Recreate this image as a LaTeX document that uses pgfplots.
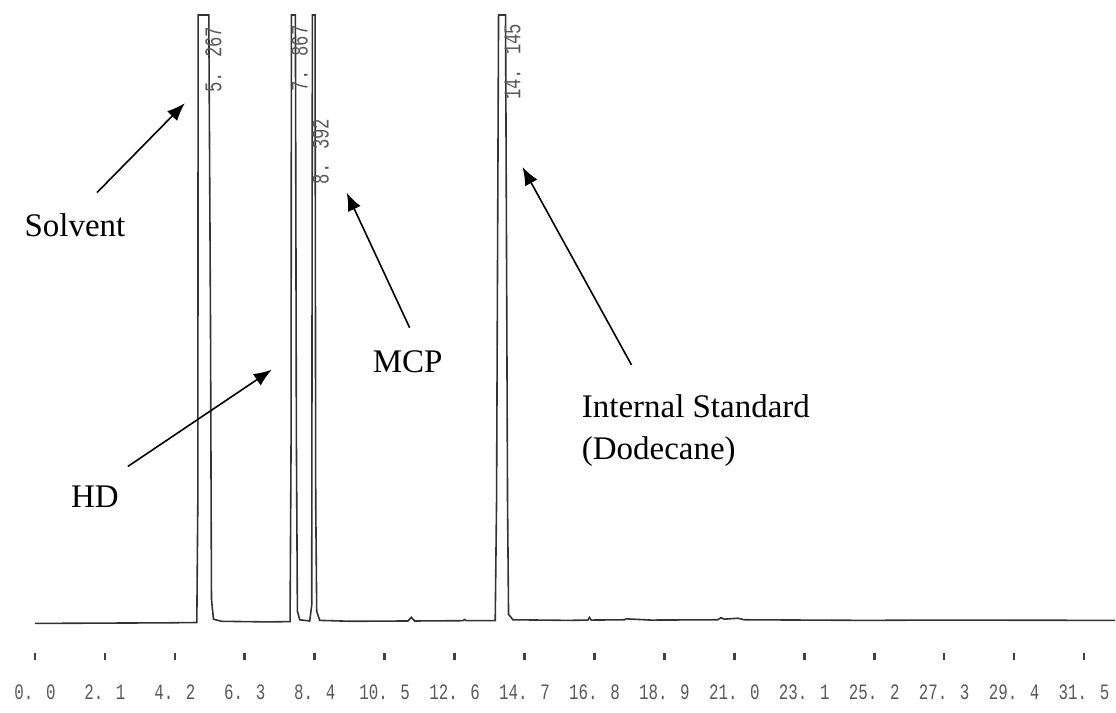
\documentclass[border=0pt]{standalone}
\usepackage{pgfplots}
\pgfplotsset{compat=1.18}
\usepackage{fontspec}
\setmainfont{Liberation Serif}
\newfontfamily\monofont[FakeStretch=0.72]{Liberation Mono}
\usetikzlibrary{arrows.meta}
\begin{document}
\begin{tikzpicture}
\begin{axis}[
  x=16.6667pt, y=3.045pt,
  xmin=-1.05, xmax=32.43, ymin=-5.42, ymax=102.46,
  axis line style={draw=none},
  ytick=\empty,
  xtick={0,2.1,4.2,6.3,8.4,10.5,12.6,14.7,16.8,18.9,21.0,23.1,25.2,27.3,29.4,31.5},
  xticklabels={0. 0,2. 1,4. 2,6. 3,8. 4,10. 5,12. 6,14. 7,16. 8,18. 9,21. 0,23. 1,25. 2,27. 3,29. 4,31. 5},
  xtick pos=bottom,
  tick align=center,
  major tick length=3.2pt,
  tick style={line width=1.3pt, black!75},
  xticklabel style={font=\monofont\fontsize{11}{11}\selectfont, text=black!65, anchor=center, yshift=-16.5pt},
  clip=false,
]
\addplot[black!80, line width=0.8pt] coordinates {
(0,0) (2,0.05) (4,0.1) (4.86,0.15) (4.89,20) (4.90,100) (5.22,100) (5.27,50) (5.30,4) (5.36,0.7) (5.6,0.35)
(7.0,0.25) (7.66,0.3) (7.69,30) (7.70,100) (7.82,100) (7.85,30) (7.88,2) (7.95,0.6) (8.25,0.4) (8.31,3)
(8.33,100) (8.41,100) (8.43,20) (8.46,2) (8.55,0.5) (9.5,0.35) (11.2,0.4) (11.3,1.0) (11.4,0.4)
(12.85,0.45) (12.9,0.65) (12.95,0.45) (13.82,0.45) (13.86,20) (13.92,100) (14.13,100) (14.19,20)
(14.22,1.5) (14.35,0.6) (16.0,0.5) (16.6,0.55) (16.65,1.0) (16.7,0.55) (17.7,0.6) (17.75,0.75)
(18.5,0.55) (20.5,0.6) (20.6,0.95) (20.7,0.7) (21.1,0.85) (21.3,0.6) (25,0.5) (27,0.55) (32.43,0.5)
};
% peak retention-time labels
\node[rotate=90, anchor=west, inner sep=0pt, font=\monofont\fontsize{12}{12}\selectfont, text=black!65] at (axis cs:5.36,87.2) {5. 267};
\node[rotate=90, anchor=west, inner sep=0pt, font=\monofont\fontsize{12}{12}\selectfont, text=black!65] at (axis cs:7.95,87.4) {7. 867};
\node[rotate=90, anchor=west, inner sep=0pt, font=\monofont\fontsize{12}{12}\selectfont, text=black!65] at (axis cs:8.58,72.1) {8. 392};
\node[rotate=90, anchor=west, inner sep=0pt, font=\monofont\fontsize{12}{12}\selectfont, text=black!65] at (axis cs:14.34,86.0) {14. 145};
% annotations
\node[font=\fontsize{16.5}{18}\selectfont] at (axis cs:1.2,65.5) {Solvent};
\draw[line width=0.8pt, -{Latex[length=9pt,width=7pt]}] (axis cs:1.86,70.8) -- (axis cs:4.5,85.5);
\node[font=\fontsize{16.5}{18}\selectfont] at (axis cs:1.8,20.9) {HD};
\draw[line width=0.8pt, -{Latex[length=9pt,width=7pt]}] (axis cs:2.79,25.8) -- (axis cs:7.11,41.7);
\node[font=\fontsize{16.5}{18}\selectfont] at (axis cs:11.19,43.0) {MCP};
\draw[line width=0.8pt, -{Latex[length=9pt,width=7pt]}] (axis cs:11.25,48.6) -- (axis cs:9.36,70.8);
\node[anchor=west, align=left, inner sep=0pt, font=\fontsize{16.5}{21}\selectfont] at (axis cs:16.41,31.7) {Internal Standard\\(Dodecane)};
\draw[line width=0.8pt, -{Latex[length=9pt,width=7pt]}] (axis cs:17.91,42.5) -- (axis cs:14.64,75.0);
\path (axis cs:-1.05,-14.61);
\end{axis}
\end{tikzpicture}
\end{document}
